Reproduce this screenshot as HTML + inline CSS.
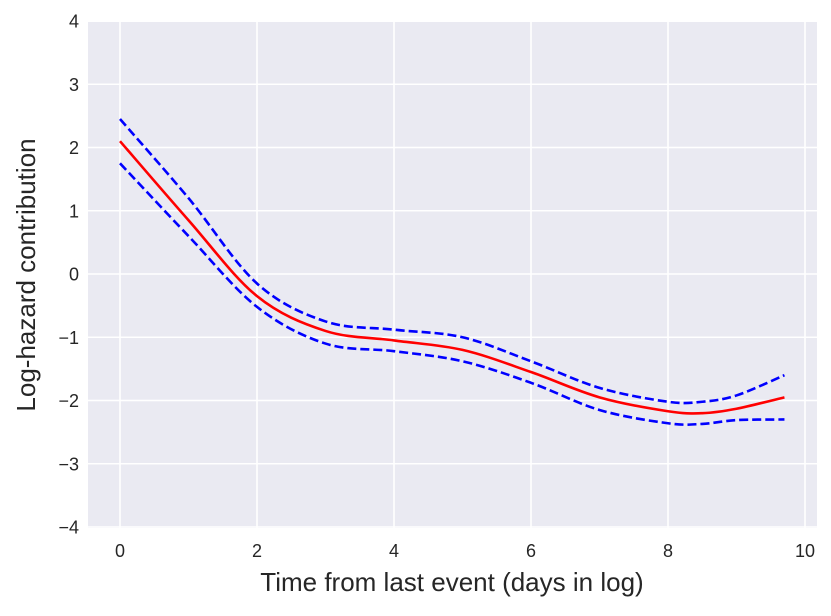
<!DOCTYPE html>
<html><head><style>
body{margin:0;background:#fff;}
svg text{font-family:"Liberation Sans",sans-serif;fill:#262626;}
</style></head><body>
<svg id="s" width="831" height="611" xmlns="http://www.w3.org/2000/svg">
<rect x="88" y="22" width="729" height="506" fill="#eaeaf2"/>
<g id="grid" stroke="#fff" stroke-width="1.6"></g>
<g id="lab" font-size="18"></g>
<text x="452" y="591" font-size="26" text-anchor="middle">Time from last event (days in log)</text>
<text transform="translate(35,275) rotate(-90)" font-size="26" text-anchor="middle">Log-hazard contribution</text>
<path id="up" fill="none" stroke="#0000ff" stroke-width="2.6" stroke-dasharray="9,4"/>
<path id="lo" fill="none" stroke="#0000ff" stroke-width="2.6" stroke-dasharray="9,4"/>
<path id="md" fill="none" stroke="#ff0000" stroke-width="2.6"/>
</svg>
<script>
const X=x=>120+68.5*x, Y=y=>274-63.25*y;
const g=document.getElementById('grid'),l=document.getElementById('lab');
let h='',t='';
for(let i=0;i<=10;i+=2){h+=`<line x1="${X(i)}" x2="${X(i)}" y1="22" y2="528"/>`;t+=`<text x="${X(i)}" y="557" text-anchor="middle">${i}</text>`;}
for(let j=-4;j<=4;j++){h+=`<line x1="88" x2="817" y1="${Y(j)}" y2="${Y(j)}"/>`;t+=`<text x="79" y="${Y(j)+6.5}" text-anchor="end">${j<0?'\u2212'+(-j):j}</text>`;}
g.innerHTML=h;l.innerHTML=t;
function path(p){p=p.map(a=>[X(a[0]),Y(a[1])]);let d=`M${p[0][0]},${p[0][1]}`;
for(let i=0;i<p.length-1;i++){const p0=p[i-1]||p[i],p1=p[i],p2=p[i+1],p3=p[i+2]||p2;
d+=`C${p1[0]+(p2[0]-p0[0])/6},${p1[1]+(p2[1]-p0[1])/6} ${p2[0]-(p3[0]-p1[0])/6},${p2[1]-(p3[1]-p1[1])/6} ${p2[0]},${p2[1]}`;}return d;}
document.getElementById('md').setAttribute('d',path([[0,2.1],[1,0.85],[2,-0.35],[3,-0.9],[4,-1.05],[5,-1.2],[6,-1.55],[7,-1.95],[8,-2.17],[8.5,-2.2],[9,-2.13],[9.7,-1.95]]));
document.getElementById('up').setAttribute('d',path([[0,2.45],[1,1.2],[2,-0.15],[3,-0.75],[4,-0.88],[5,-1.0],[6,-1.38],[7,-1.8],[8,-2.02],[8.5,-2.02],[9,-1.92],[9.7,-1.6]]));
document.getElementById('lo').setAttribute('d',path([[0,1.75],[1,0.6],[2,-0.52],[3,-1.1],[4,-1.22],[5,-1.38],[6,-1.72],[7,-2.15],[8,-2.36],[8.5,-2.37],[9,-2.31],[9.7,-2.3]]));
</script>
</body></html>
